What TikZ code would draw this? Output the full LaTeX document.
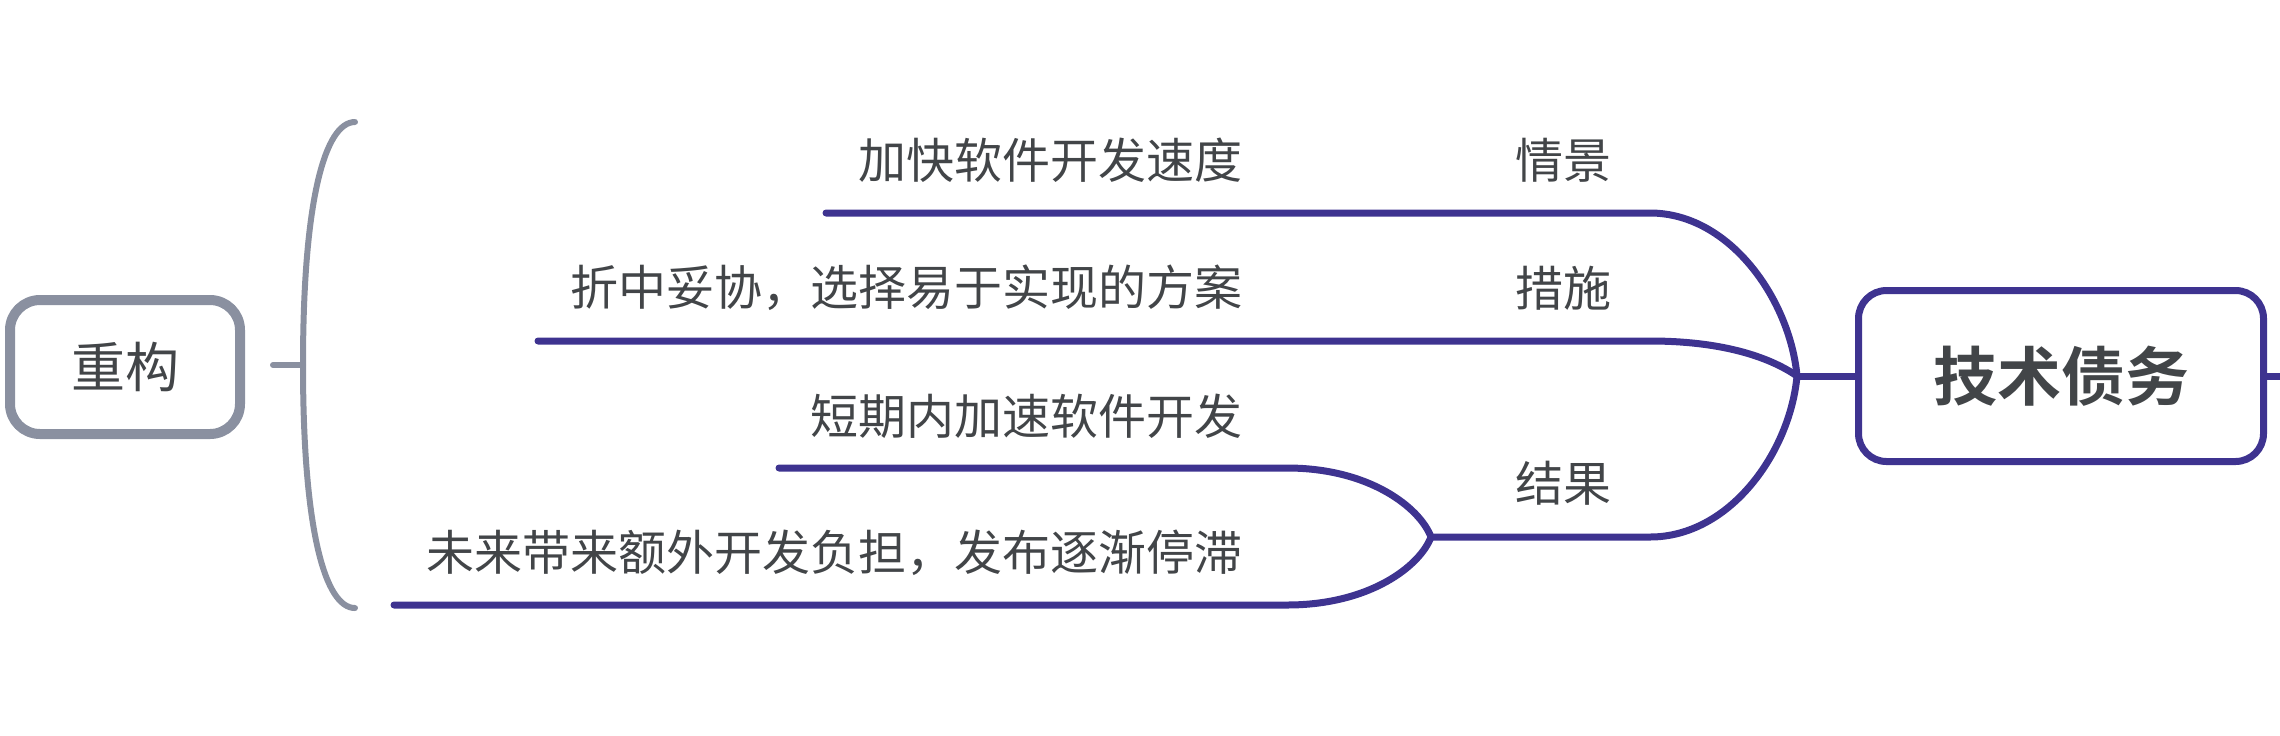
\documentclass[tikz,border=0pt]{standalone}
\usepackage{fontspec}
\newfontfamily\cjk{Noto Sans CJK SC}[BoldFont={Noto Sans CJK SC Bold}]
\usepackage{xcolor}
\usepackage{tikz}
\usetikzlibrary{positioning}
\definecolor{debtpurple}{HTML}{3E3390}
\definecolor{refgray}{HTML}{8A90A0}
\definecolor{inkgray}{HTML}{424548}

\begin{document}
\begin{tikzpicture}[
    x=0.5pt, y=-0.5pt,
    every node/.style={font=\cjk\fontsize{24}{28}\selectfont, text=inkgray, inner sep=0pt},
    rootbox/.style={draw=debtpurple, line width=3.5pt, rounded corners=14pt, minimum width=202.5pt, minimum height=85.5pt, font=\cjk\bfseries\fontsize{32}{38}\selectfont},
    sidebox/.style={draw=refgray, line width=5pt, rounded corners=15pt, minimum width=115pt, minimum height=67pt, font=\cjk\fontsize{27}{32}\selectfont},
    leaf/.style={anchor=east},
    tag/.style={anchor=center},
    branch/.style={draw=debtpurple, line width=3.5pt, line cap=round, line join=round},
    brace/.style={draw=refgray, line width=3pt, line cap=round}
]
\useasboundingbox (0,0) rectangle (2280,735);

% Root
\node[rootbox] (debt) at (2061,376) {技术债务};
\coordinate (hub) at (1797,376);
\coordinate (rim) at (2280,376);
\draw[branch] (hub) -- (debt.west);
\draw[branch] (debt.east) -- (rim);

% Scene
\coordinate (sceneL) at (826,213);
\coordinate (sceneR) at (1650,213);
\node[tag] (scene) at (1563,160) {情景};
\node[leaf] (speed) at (1243,160) {加快软件开发速度};

% Measure
\coordinate (measureL) at (538,341);
\coordinate (measureR) at (1650,341);
\node[tag] (measure) at (1563,288) {措施};
\node[leaf] (compromise) at (1243,288) {折中妥协，选择易于实现的方案};

% Result
\coordinate (resultR) at (1650,537);
\coordinate (fork) at (1431,537);
\node[tag] (result) at (1563,483) {结果};
\coordinate (shortR) at (1287,468);
\coordinate (shortL) at (779,468);
\node[leaf] (short) at (1243,416) {短期内加速软件开发};
\coordinate (burdenR) at (1287,605);
\coordinate (burdenL) at (394,605);
\node[leaf] (burden) at (1243,553) {未来带来额外开发负担，发布逐渐停滞};

% Branches
\draw[branch] (sceneL) -- (sceneR) .. controls (1730,213) and (1790,300) .. (hub)
    .. controls (1790,452) and (1730,537) .. (resultR) -- (fork);
\draw[branch] (measureL) -- (measureR) .. controls (1720,341) and (1768,356) .. (hub);
\draw[branch] (fork) .. controls (1420,508) and (1370,468) .. (shortR) -- (shortL);
\draw[branch] (fork) .. controls (1420,566) and (1370,605) .. (burdenR) -- (burdenL);

% Refactor
\node[sidebox] (refac) at (125,367) {重构};
\coordinate (braceTop) at (355,122);
\coordinate (braceMid) at (303,365);
\coordinate (braceBot) at (355,608);
\coordinate (tick) at (273,365);
\draw[brace] (tick) -- (braceMid);
\draw[brace] (braceTop) .. controls (325,122) and (303,200) .. (braceMid)
    .. controls (303,530) and (325,608) .. (braceBot);

\end{tikzpicture}
\end{document}
